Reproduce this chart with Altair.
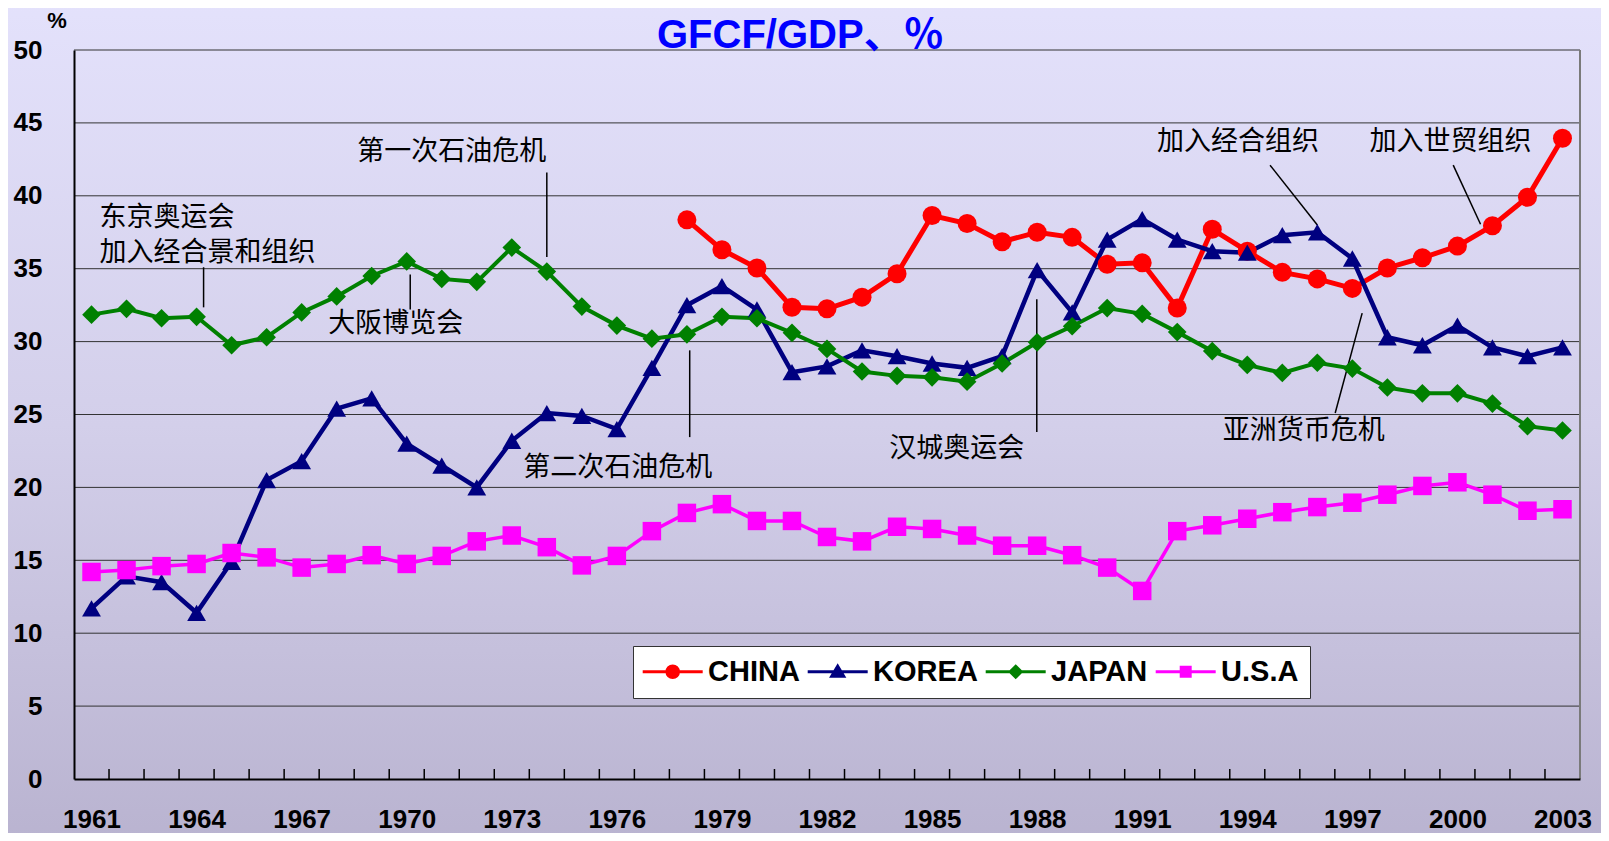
import altair as alt
import pandas as pd

# ---------------- data ----------------
years = list(range(1961, 2004))
china_years = list(range(1978, 2004))
china = [38.35, 36.3, 35.05, 32.35, 32.25, 33.05, 34.65, 38.65, 38.1, 36.85,
         37.5, 37.15, 35.3, 35.4, 32.3, 37.7, 36.2, 34.75, 34.3, 33.65,
         35.05, 35.75, 36.55, 37.95, 39.9, 43.95]
korea = [11.7, 13.9, 13.5, 11.4, 14.9, 20.5, 21.8, 25.4, 26.1, 23.0,
         21.5, 20.0, 23.2, 25.1, 24.9, 24.0, 28.2, 32.5, 33.8, 32.2,
         27.9, 28.3, 29.4, 29.0, 28.5, 28.2, 29.0, 34.9, 32.0, 37.0,
         38.4, 37.0, 36.2, 36.1, 37.3, 37.5, 35.7, 30.3, 29.75, 31.1,
         29.6, 29.0, 29.6]
japan = [31.85, 32.25, 31.6, 31.7, 29.75, 30.3, 32.0, 33.1, 34.5, 35.5,
         34.3, 34.1, 36.45, 34.8, 32.4, 31.1, 30.2, 30.5, 31.7, 31.6,
         30.6, 29.5, 27.95, 27.65, 27.55, 27.25, 28.5, 29.95, 31.05, 32.3,
         31.9, 30.65, 29.35, 28.4, 27.85, 28.55, 28.15, 26.85, 26.45, 26.45,
         25.75, 24.2, 23.9]
usa = [14.2, 14.33, 14.6, 14.75, 15.5, 15.2, 14.5, 14.75, 15.35, 14.75,
       15.3, 16.3, 16.7, 15.9, 14.65, 15.3, 17.0, 18.25, 18.85, 17.7,
       17.7, 16.6, 16.3, 17.3, 17.15, 16.7, 16.0, 16.0, 15.35, 14.5,
       12.9, 17.0, 17.4, 17.85, 18.3, 18.65, 18.95, 19.5, 20.1, 20.35,
       19.5, 18.4, 18.5]

series_names = ["CHINA", "KOREA", "JAPAN", "U.S.A"]
series_colors = ["#FF0000", "#000080", "#008000", "#FF00FF"]
series_shapes = ["circle", "triangle-up", "diamond", "square"]
series_sizes = [361, 342, 256, 170]
series_widths = [5, 3.5, 3.5, 3.5]
legend_paths = [
    "M-3,0H3M0.58,0A0.58,0.58,0,1,1,-0.58,0A0.58,0.58,0,1,1,0.58,0Z",
    "M-3,0H3M0,-0.55L0.6,0.45L-0.6,0.45Z",
    "M-3,0H3M0,-0.55L0.55,0L0,0.55L-0.55,0Z",
    "M-3,0H3M-0.45,-0.45H0.45V0.45H-0.45Z",
]

x_label_years = list(range(1961, 2004, 3))
y_ticks = list(range(0, 51, 5))
year_bounds = [y + 0.5 for y in range(1961, 2003)]

ann_text = ["东京奥运会", "加入经合景和组织", "第一次石油危机", "大阪博览会",
            "第二次石油危机", "汉城奥运会", "加入经合组织", "加入世贸组织", "亚洲货币危机"]
ann_tx = [1961.23, 1961.23, 1968.59, 1967.76, 1973.33, 1983.78, 1991.42, 1997.49, 1993.3]
ann_ty = [38.5, 36.05, 43.0, 31.2, 21.3, 22.6, 43.7, 43.7, 23.9]

lead_x1 = [1964.2, 1974.0, 1970.1, 1978.08, 1987.99, 1994.65, 1999.88, 1997.28]
lead_x2 = [1964.2, 1974.0, 1970.1, 1978.08, 1987.99, 1996.0, 2000.66, 1996.51]
lead_y1 = [35.1, 41.6, 34.6, 29.4, 32.9, 42.1, 42.1, 31.95]
lead_y2 = [32.35, 35.8, 32.2, 23.45, 23.8, 38.0, 38.05, 25.1]

title_text = "GFCF/GDP、％"
unit_text = "%"

# ---------------- tables ----------------
rows = []
for name, yrs, vals in [("CHINA", china_years, china), ("KOREA", years, korea),
                        ("JAPAN", years, japan), ("U.S.A", years, usa)]:
    for yr, v in zip(yrs, vals):
        rows.append({"year": yr, "value": v, "country": name})
df = pd.DataFrame(rows)

ann_df = pd.DataFrame({"label": ann_text, "x": ann_tx, "y": ann_ty})
lead_df = pd.DataFrame({"x1": lead_x1, "x2": lead_x2, "y1": lead_y1, "y2": lead_y2})
grid_df = pd.DataFrame({"g": [t for t in y_ticks if t > 0]})
bound_df = pd.DataFrame({"b": year_bounds})

W, H = 1506, 729
FONT = "Liberation Sans"
CJK = "Noto Sans CJK SC"

xscale = alt.Scale(domain=[1960.5, 2003.5], nice=False, zero=False)
yscale = alt.Scale(domain=[0, 50], nice=False)

x_axis = alt.Axis(values=x_label_years, format="d", labelFont=FONT, labelFontSize=26,
                  labelFontWeight="bold", labelColor="black", labelPadding=27,
                  ticks=False, grid=False, domainColor="black", domainWidth=2,
                  title=None, labelFlush=False, labelOverlap=False, zindex=1)
y_axis = alt.Axis(values=y_ticks, labelFont=FONT, labelFontSize=26, labelFontWeight="bold",
                  labelColor="black", labelPadding=32, ticks=False, grid=False,
                  domainColor="black", domainWidth=2, title=None, labelFlush=False,
                  labelOverlap=False, zindex=1)

gradient = {"gradient": "linear", "x1": 0, "x2": 0, "y1": 0, "y2": 1,
            "stops": [{"offset": 0, "color": "#E4E2FC"},
                      {"offset": 0.5, "color": "#D3CFEA"},
                      {"offset": 1, "color": "#B8B2CF"}]}

bg = alt.Chart(alt.Data(values=[{}])).mark_rect(fill=gradient, strokeWidth=0).encode(
    x=alt.value(-80), x2=alt.value(W + 40), y=alt.value(-60), y2=alt.value(H + 80))

grid = alt.Chart(grid_df).mark_rule(color="#333333", strokeWidth=1).encode(
    y=alt.Y("g:Q", scale=yscale, axis=y_axis))

right_border = alt.Chart(alt.Data(values=[{}])).mark_rule(color="#7a7a7a", strokeWidth=2).encode(
    x=alt.value(W), y=alt.value(0), y2=alt.value(H))

inner_ticks = alt.Chart(bound_df).mark_rule(color="black", strokeWidth=1.5).encode(
    x=alt.X("b:Q", scale=xscale, axis=x_axis), y=alt.value(H - 10), y2=alt.value(H))

leaders = alt.Chart(lead_df).mark_rule(color="black", strokeWidth=1.5).encode(
    x=alt.X("x1:Q", scale=xscale, axis=x_axis), x2="x2:Q",
    y=alt.Y("y1:Q", scale=yscale, axis=y_axis), y2="y2:Q")

lines = alt.Chart(df).mark_line().encode(
    x=alt.X("year:Q", scale=xscale, axis=x_axis),
    y=alt.Y("value:Q", scale=yscale, axis=y_axis),
    color=alt.Color("country:N", scale=alt.Scale(domain=series_names, range=series_colors), legend=None),
    strokeWidth=alt.StrokeWidth("country:N", scale=alt.Scale(domain=series_names, range=series_widths), legend=None),
)

points = alt.Chart(df).mark_point(filled=True, opacity=1).encode(
    x=alt.X("year:Q", scale=xscale, axis=x_axis),
    y=alt.Y("value:Q", scale=yscale, axis=y_axis),
    color=alt.Color("country:N", scale=alt.Scale(domain=series_names, range=series_colors), legend=None),
    shape=alt.Shape("country:N", scale=alt.Scale(domain=series_names, range=series_shapes), legend=None),
    size=alt.Size("country:N", scale=alt.Scale(domain=series_names, range=series_sizes), legend=None),
)

ann = alt.Chart(ann_df).mark_text(align="left", baseline="middle", font=CJK, fontSize=27,
                                  color="black").encode(
    x=alt.X("x:Q", scale=xscale, axis=x_axis), y=alt.Y("y:Q", scale=yscale, axis=y_axis),
    text="label:N")

title_mark = alt.Chart(alt.Data(values=[{"t": title_text}])).mark_text(
    align="left", baseline="alphabetic", font=FONT + ", " + CJK, fontSize=40, fontWeight="bold",
    color="#0000FF").encode(text="t:N", x=alt.value(583), y=alt.value(-2))

unit_mark = alt.Chart(alt.Data(values=[{"t": unit_text}])).mark_text(
    align="center", baseline="middle", font=FONT, fontSize=22, fontWeight="bold",
    color="black").encode(text="t:N", x=alt.value(-17), y=alt.value(-29))

legend = alt.Legend(orient="none", legendX=559, legendY=596, direction="horizontal", title=None,
                    fillColor="white", strokeColor="#333333", padding=11,
                    labelFont=FONT, labelFontSize=29, labelFontWeight="bold", labelColor="black",
                    symbolSize=400, symbolStrokeWidth=3, symbolOffset=14.2, labelOffset=20.9,
                    columnPadding=1, labelLimit=300)

legend_layer = alt.Chart(df).mark_point(filled=True, opacity=1).encode(
    color=alt.Color("country:N", scale=alt.Scale(domain=series_names, range=series_colors), legend=legend),
    stroke=alt.Stroke("country:N", scale=alt.Scale(domain=series_names, range=series_colors), legend=legend),
    shape=alt.Shape("country:N", scale=alt.Scale(domain=series_names, range=legend_paths), legend=legend),
).transform_filter("false")

chart = alt.layer(bg, grid, right_border, inner_ticks, leaders, lines, points, ann,
                  title_mark, unit_mark, legend_layer).resolve_scale(
    color="independent", shape="independent", stroke="independent"
).properties(
    width=W, height=H,
    autosize=alt.AutoSizeParams(type="none"),
    padding={"left": 66, "top": 42, "right": 21, "bottom": 54},
).configure(background="#E4E2FC").configure_view(stroke=None)

chart.save("out.html", embed_options={"renderer": "svg", "actions": False})
